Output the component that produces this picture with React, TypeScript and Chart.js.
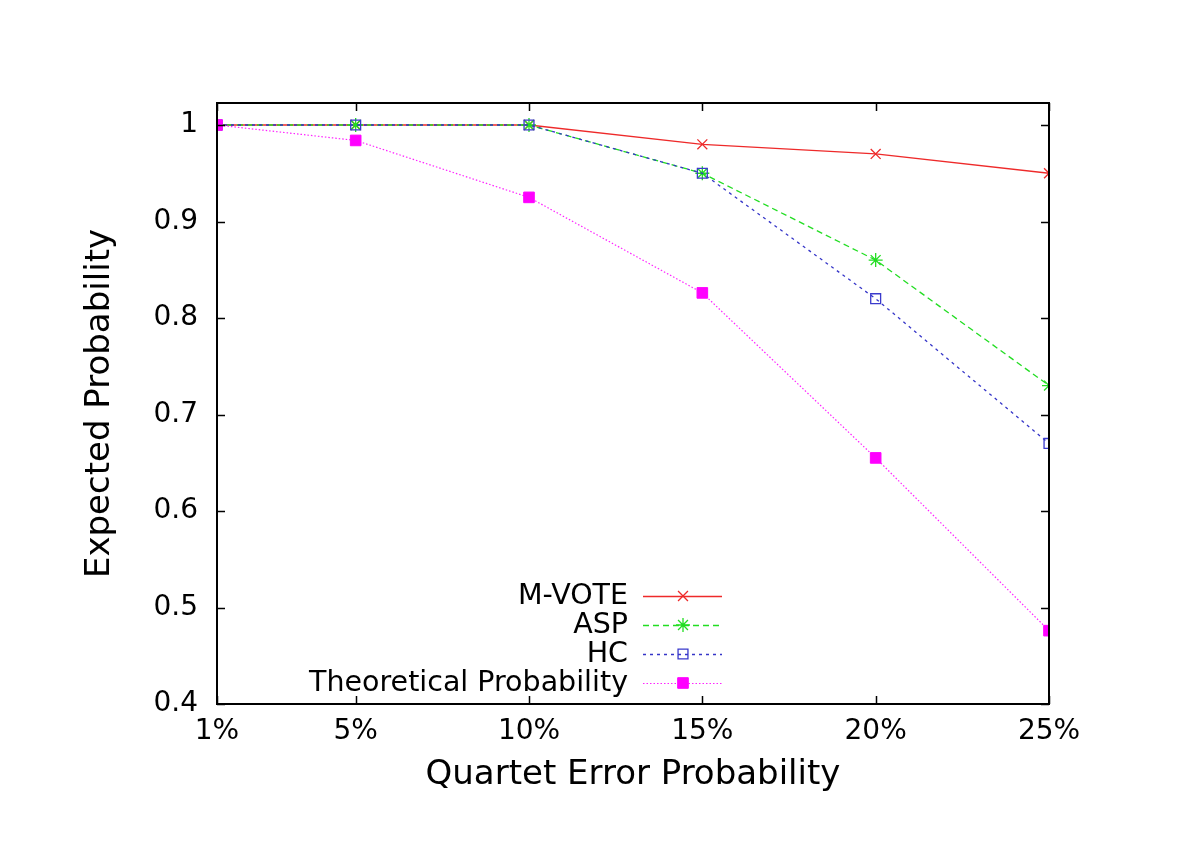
import React, { useEffect, useRef } from 'react';
import { Chart, registerables } from 'chart.js';
import { drawPoint } from 'chart.js/helpers';

Chart.register(...registerables);

const xValues = [1, 5, 10, 15, 20, 25];
const xTickLabels = ['1%', '5%', '10%', '15%', '20%', '25%'];
const yTickValues = [0.4, 0.5, 0.6, 0.7, 0.8, 0.9, 1];
const seriesNames = ['M-VOTE', 'ASP', 'HC', 'Theoretical Probability'];
const mVote = [1, 1, 1, 0.98, 0.97, 0.95];
const asp = [1, 1, 1, 0.95, 0.86, 0.73];
const hc = [1, 1, 1, 0.95, 0.82, 0.67];
const theoretical = [1, 0.984, 0.925, 0.826, 0.655, 0.476];

const FONT = "'DejaVu Sans', sans-serif";

const toPoints = (ys: number[]) => ys.map((y, i) => ({ x: xValues[i], y }));

const boxPlugin = {
  id: 'boxTicks',
  afterDatasetsDraw(chart: any) {
    const { ctx, chartArea, scales } = chart;
    const { left, right, top, bottom } = chartArea;
    ctx.save();
    ctx.strokeStyle = '#000';
    ctx.lineWidth = 1.5;
    ctx.beginPath();
    const tl = 8;
    for (const v of yTickValues) {
      const y = Math.round(scales.y.getPixelForValue(v)) + 0.5;
      ctx.moveTo(left, y); ctx.lineTo(left + tl, y);
      ctx.moveTo(right, y); ctx.lineTo(right - tl, y);
    }
    for (const v of xValues) {
      const x = Math.round(scales.x.getPixelForValue(v)) + 0.5;
      ctx.moveTo(x, bottom); ctx.lineTo(x, bottom - tl);
      ctx.moveTo(x, top); ctx.lineTo(x, top + tl);
    }
    ctx.stroke();
    ctx.lineWidth = 2;
    ctx.strokeRect(left, top, right - left, bottom - top);
    ctx.restore();
  },
};

const legendPlugin = {
  id: 'innerLegend',
  afterDraw(chart: any) {
    const { ctx, chartArea } = chart;
    const textRight = chartArea.left + 411;
    const lineStart = chartArea.left + 426;
    const lineEnd = chartArea.left + 505;
    const markX = chartArea.left + 466;
    const y0 = chartArea.bottom - 108;
    ctx.save();
    chart.data.datasets.forEach((ds: any, i: number) => {
      const y = y0 + i * 29;
      ctx.fillStyle = '#000';
      ctx.font = `28.5px ${FONT}`;
      ctx.textAlign = 'right';
      ctx.textBaseline = 'middle';
      ctx.fillText(ds.label, textRight, y + 1);
      ctx.strokeStyle = ds.borderColor;
      ctx.lineWidth = ds.borderWidth;
      ctx.setLineDash(ds.borderDash || []);
      ctx.beginPath();
      ctx.moveTo(lineStart, y + 0.5);
      ctx.lineTo(lineEnd, y + 0.5);
      ctx.stroke();
      ctx.setLineDash([]);
      ctx.fillStyle = ds.pointBackgroundColor;
      ctx.strokeStyle = ds.pointBorderColor;
      ctx.lineWidth = ds.pointBorderWidth;
      drawPoint(ctx, { pointStyle: ds.pointStyle, rotation: 0, radius: ds.pointRadius, borderWidth: ds.pointBorderWidth }, markX, y);
    });
    ctx.restore();
  },
};

export default function App() {
  const ref = useRef<HTMLCanvasElement>(null);
  useEffect(() => {
    document.body.style.margin = '0';
    const canvas = ref.current!;
    const chart = new Chart(canvas, {
      type: 'line',
      data: {
        datasets: [
          {
            label: seriesNames[0],
            data: toPoints(mVote),
            borderColor: '#ee2a2a',
            borderWidth: 1.3,
            pointStyle: 'crossRot',
            pointRadius: 7,
            pointBorderColor: '#ee2a2a',
            pointBackgroundColor: '#ee2a2a',
            pointBorderWidth: 1.3,
            order: 4,
          },
          {
            label: seriesNames[1],
            data: toPoints(asp),
            borderColor: '#22dd22',
            borderWidth: 1.3,
            borderDash: [6, 4],
            pointStyle: 'star',
            pointRadius: 7,
            pointBorderColor: '#22dd22',
            pointBackgroundColor: '#22dd22',
            pointBorderWidth: 1.3,
            order: 3,
          },
          {
            label: seriesNames[2],
            data: toPoints(hc),
            borderColor: '#3535c8',
            borderWidth: 1.3,
            borderDash: [3, 4],
            pointStyle: 'rect',
            pointRadius: 7,
            pointBorderColor: '#3a3acc',
            pointBackgroundColor: 'rgba(0,0,0,0)',
            pointBorderWidth: 1.3,
            order: 2,
          },
          {
            label: seriesNames[3],
            data: toPoints(theoretical),
            borderColor: '#ff22ff',
            borderWidth: 1.2,
            borderDash: [1.5, 2],
            pointStyle: 'rect',
            pointRadius: 7.5,
            pointBorderColor: '#ff00ff',
            pointBackgroundColor: '#ff00ff',
            pointBorderWidth: 1,
            order: 1,
          },
        ],
      },
      options: {
        responsive: false,
        animation: false,
        devicePixelRatio: 1,
        layout: { padding: { top: 103, right: 151, left: 0, bottom: 0 } },
        plugins: { legend: { display: false }, tooltip: { enabled: false } },
        elements: { line: { tension: 0 } },
        scales: {
          x: {
            type: 'linear',
            min: 1,
            max: 25,
            grid: { display: false, drawTicks: false },
            border: { display: false },
            afterBuildTicks: (scale: any) => {
              scale.ticks = xValues.map((v) => ({ value: v }));
            },
            afterFit: (scale: any) => {
              scale.height = 145;
            },
            ticks: {
              color: '#000',
              font: { family: FONT, size: 28 },
              padding: 11,
              maxRotation: 0,
              autoSkip: false,
              callback: (v: any) => xTickLabels[xValues.indexOf(Number(v))] ?? '',
            },
            title: {
              display: true,
              text: 'Quartet Error Probability',
              color: '#000',
              font: { family: FONT, size: 34 },
              padding: { top: 0, bottom: 53 },
            },
          },
          y: {
            type: 'linear',
            min: 0.4,
            max: 1.0228,
            grid: { display: false, drawTicks: false },
            border: { display: false },
            afterBuildTicks: (scale: any) => {
              scale.ticks = yTickValues.map((v) => ({ value: v }));
            },
            afterFit: (scale: any) => {
              scale.width = 217;
            },
            ticks: {
              color: '#000',
              font: { family: FONT, size: 28 },
              padding: 19,
              callback: (v: any) => String(Number(Number(v).toFixed(1))),
            },
            title: {
              display: true,
              text: 'Expected Probability',
              color: '#000',
              font: { family: FONT, size: 34 },
              padding: { top: 80, bottom: 0 },
            },
          },
        },
      },
      plugins: [boxPlugin, legendPlugin],
    });
    return () => chart.destroy();
  }, []);
  return <canvas ref={ref} width={1200} height={849} style={{ display: 'block', width: 1200, height: 849 }} />;
}
